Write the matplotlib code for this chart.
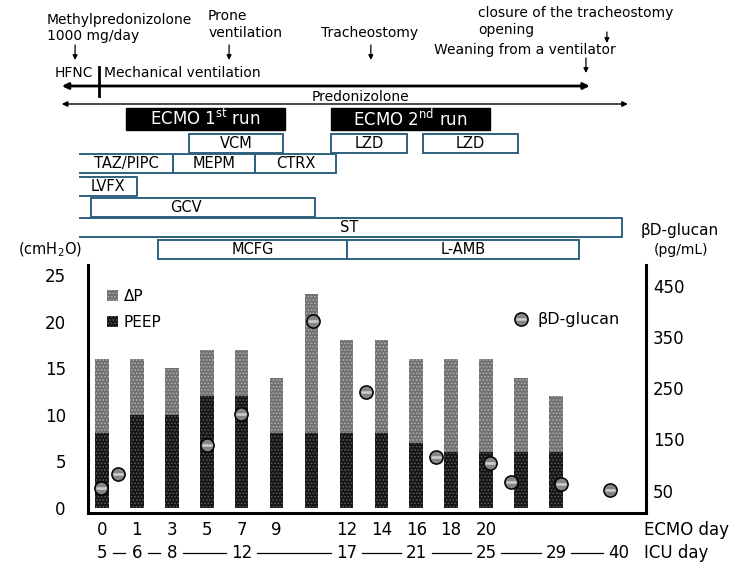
import numpy as np
import matplotlib
matplotlib.use('Agg')
import matplotlib.pyplot as plt
from matplotlib.patches import Rectangle
from matplotlib.legend_handler import HandlerTuple

# pressures per ECMO day (cmH2O)
ecmo_day = ['0', '1', '3', '5', '7', '9', '', '12', '14', '16', '18', '20', '', '']
peep = [8, 10, 10, 12, 12, 8, 8, 8, 8, 7, 6, 6, 6, 6]
delta_p = [8, 6, 5, 5, 5, 6, 15, 10, 10, 9, 10, 10, 8, 6]

# ICU day row under the axis
icu_day = ['5', '6', '8', '12', '17', '21', '25', '29', '40']
icu_pos = [0, 1, 2, 4, 7, 9, 11, 13, 14.8]

# beta-D-glucan (pg/mL)
glucan_pos = [-0.04, 0.46, 3.01, 3.98, 6.04, 7.56, 9.56, 11.11, 11.71, 13.14, 14.55]
glucan = [55, 82, 139, 200, 381, 243, 116, 104, 67, 63, 51]

# treatment periods (same time axis as the bars)
drugs = ['VCM', 'LZD', 'LZD', 'TAZ/PIPC', 'MEPM', 'CTRX', 'LVFX', 'GCV', 'ST', 'MCFG', 'L-AMB']
drug_start = [2.49, 6.56, 9.19, -0.63, 2.03, 4.38, -0.63, -0.32, -0.63, 1.60, 7.02]
drug_end = [5.18, 8.73, 11.91, 2.03, 4.38, 6.70, 1.00, 6.10, 14.89, 7.02, 13.66]
drug_row = [0, 0, 0, 1, 1, 1, 2, 3, 4, 5, 5]
drug_open_left = [False, False, False, True, False, False, True, False, True, False, False]
drug_label_x = [None, None, None, None, None, None, None, 2.41, 7.08, None, None]

ecmo_runs = [r'ECMO 1$^{\rm st}$ run', r'ECMO 2$^{\rm nd}$ run']
ecmo_start = [0.69, 6.56]
ecmo_end = [5.24, 11.11]

# events with arrows
events = ['Methylpredonizolone\n1000 mg/day', 'Prone\nventilation', 'Tracheostomy',
          'closure of the tracheostomy\nopening', 'Weaning from a ventilator']
event_pos = [-0.77, 3.64, 7.70, 14.46, 13.86]
event_text_x = [-1.58, 3.04, 6.27, 10.77, 9.51]
event_text_y = [28, 24.5, 33, 21.5, 50]
event_arrow_y = [(45, 60), (45, 60), (45, 60), (32, 43), (58, 73)]

hfnc_end = -0.09
mv_range = (-1.15, 13.97)
pred_range = (-1.15, 15.06)

xlim = (-0.40, 15.58)
box_blue = '#2f617f'

plt.rcParams['hatch.linewidth'] = 0.8

fig = plt.figure(figsize=(7.5, 5.63), dpi=100)
ax = fig.add_axes([88/750, 50/563, 558/750, 248/563])
ax_top = fig.add_axes([88/750, 298/563, 558/750, 265/563])

# ---- main chart
x = np.arange(len(peep))
b_peep = ax.bar(x, peep, width=0.39, color='#141414', edgecolor='#5a5a5a', hatch='.....', lw=0)
b_dp = ax.bar(x, delta_p, bottom=peep, width=0.39, color='#6f6f6f', edgecolor='#b0b0b0', hatch='.....', lw=0)
ax.set_xlim(*xlim)
ax.set_ylim(-0.54, 26.1)
ax.set_yticks([0, 5, 10, 15, 20, 25])
ax.set_xticks(x)
ax.set_xticklabels(ecmo_day)
ax.tick_params(axis='y', length=0, labelsize=12, pad=16)
ax.tick_params(axis='x', length=0, labelsize=12, pad=6)
ax.spines['top'].set_visible(False)
ax.spines['right'].set_visible(False)
for s in ['left', 'bottom']:
    ax.spines[s].set_linewidth(2.2)

ax2 = ax.twinx()
ax2.set_ylim(6.3, 491)
ax2.set_yticks([50, 150, 250, 350, 450])
ax2.tick_params(axis='y', length=0, labelsize=12, pad=5)
for s in ['left', 'top', 'bottom']:
    ax2.spines[s].set_visible(False)
ax2.spines['right'].set_linewidth(2.2)
circ, = ax2.plot(glucan_pos, glucan, ls='none', marker='o', ms=9.5, mfc='#858585', mec='k', mew=1.1, zorder=5)
band, = ax2.plot(glucan_pos, glucan, ls='none', marker='_', ms=7, mec='#d0d0d0', mew=1.8, zorder=6)

ax.legend([b_dp, b_peep], ['ΔP', 'PEEP'], loc='upper left', bbox_to_anchor=(0.034, 0.905),
          frameon=False, fontsize=11, handlelength=0.7, handleheight=0.7, handletextpad=0.4,
          labelspacing=0.75, borderpad=0, borderaxespad=0)
ax2.legend([(circ, band)], ['βD-glucan'], handler_map={tuple: HandlerTuple(ndivide=1)},
           loc='upper left', bbox_to_anchor=(0.762, 0.81), frameon=False, fontsize=11.5,
           handlelength=1.0, numpoints=1, handletextpad=0.5, borderpad=0, borderaxespad=0)

# ICU day row
tr = ax.get_xaxis_transform()
for i, (lab, p) in enumerate(zip(icu_day, icu_pos)):
    ax.text(p, -0.163, lab, transform=tr, ha='center', va='center', fontsize=12)
    if i < len(icu_day) - 1:
        g0 = 0.22 + 0.11 * len(lab)
        g1 = 0.22 + 0.11 * len(icu_day[i + 1])
        ax.plot([p + g0, icu_pos[i + 1] - g1], [-0.163, -0.163], transform=tr, color='k',
                lw=0.9, clip_on=False)
ax.text(15.52, -0.069, 'ECMO day', transform=tr, ha='left', va='center', fontsize=12)
ax.text(15.52, -0.163, 'ICU day', transform=tr, ha='left', va='center', fontsize=12)

# axis titles
fig.text(18/750, 1 - 250/563, '(cmH$_2$O)', ha='left', va='center', fontsize=10.5)
fig.text(680/750, 1 - 230/563, 'βD-glucan', ha='center', va='center', fontsize=11)
fig.text(681/750, 1 - 250/563, '(pg/mL)', ha='center', va='center', fontsize=10)

# ---- timeline panel
ax_top.set_xlim(*xlim)
ax_top.set_ylim(265, 0)
ax_top.axis('off')

for lab, p, tx, ty, (ya, yb) in zip(events, event_pos, event_text_x, event_text_y, event_arrow_y):
    ax_top.text(tx, ty, lab, ha='left', va='center', fontsize=10, linespacing=1.25, clip_on=False)
    ax_top.annotate('', xy=(p, yb), xytext=(p, ya), annotation_clip=False,
                    arrowprops=dict(arrowstyle='-|>', color='k', lw=0.9, mutation_scale=7,
                                    shrinkA=0, shrinkB=0))

ax_top.text(-1.35, 73, 'HFNC', ha='left', va='center', fontsize=10, clip_on=False)
ax_top.text(0.06, 73, 'Mechanical ventilation', ha='left', va='center', fontsize=10, clip_on=False)
ax_top.plot([hfnc_end, hfnc_end], [67, 96], color='k', lw=2, clip_on=False)
ax_top.annotate('', xy=(mv_range[0], 86), xytext=(mv_range[1], 86), annotation_clip=False,
                arrowprops=dict(arrowstyle='<|-|>', color='k', lw=2, mutation_scale=9,
                                shrinkA=0, shrinkB=0))
ax_top.text(7.39, 97, 'Predonizolone', ha='center', va='center', fontsize=10, clip_on=False)
ax_top.annotate('', xy=(pred_range[0], 104), xytext=(pred_range[1], 104), annotation_clip=False,
                arrowprops=dict(arrowstyle='<|-|>', color='k', lw=1, mutation_scale=8,
                                shrinkA=0, shrinkB=0))

for lab, s, e in zip(ecmo_runs, ecmo_start, ecmo_end):
    ax_top.add_patch(Rectangle((s, 108), e - s, 22, color='k', clip_on=False))
    ax_top.text((s + e) / 2, 119, lab, ha='center', va='center', color='white', fontsize=12)

row_y = [143.5, 163.5, 186.5, 207.5, 227.5, 249]
box_h = 19
for lab, s, e, r, op, lx in zip(drugs, drug_start, drug_end, drug_row, drug_open_left, drug_label_x):
    yc = row_y[r]
    y0, y1 = yc - box_h / 2, yc + box_h / 2
    if op:
        ax_top.plot([s, e, e, s], [y0, y0, y1, y1], color=box_blue, lw=1.4, clip_on=False)
    else:
        ax_top.add_patch(Rectangle((s, y0), e - s, box_h, fc='white', ec=box_blue, lw=1.4,
                                   clip_on=False))
    ax_top.text(lx if lx is not None else (s + e) / 2, yc, lab, ha='center', va='center',
                fontsize=10.5, clip_on=False)

fig.savefig('out.png', dpi=100)
